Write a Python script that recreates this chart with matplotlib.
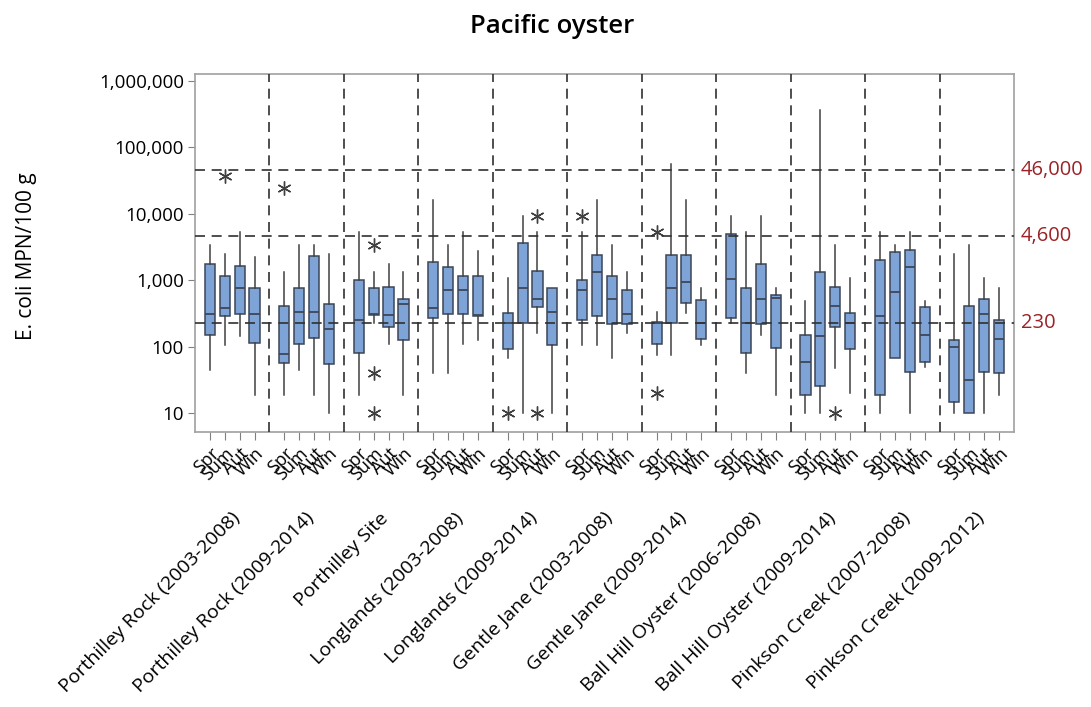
import matplotlib
matplotlib.use('Agg')
import matplotlib.pyplot as plt
import matplotlib.ticker as mticker
from matplotlib.transforms import blended_transform_factory

plt.rcParams['font.family'] = ['Open Sans', 'DejaVu Sans']

# ---------------- data ----------------
groups = ["Porthilley Rock (2003-2008)", "Porthilley Rock (2009-2014)", "Porthilley Site",
          "Longlands (2003-2008)", "Longlands (2009-2014)", "Gentle Jane (2003-2008)",
          "Gentle Jane (2009-2014)", "Ball Hill Oyster (2006-2008)", "Ball Hill Oyster (2009-2014)",
          "Pinkson Creek (2007-2008)", "Pinkson Creek (2009-2012)"]
seasons = ["Spr", "Sum", "Aut", "Win"]

# per box (group-major, season-minor)
whis_hi = [3360, 2460, 5200, 2190,
           1335, 3360, 3360, 2460,
           5200, 1335, 1740, 1335,
           15960, 3360, 5200, 2730,
           1060, 9170, 5200, 750,
           5200, 15960, 3360, 1335,
           326, 54900, 15960, 750,
           9170, 5200, 9170, 750,
           489, 360000, 3360, 1060,
           5200, 3360, 5200, 483,
           2460, 3360, 1060, 750]
q3 = [1740, 1160, 1625, 750,
      406, 750, 2296, 430,
      1000, 750, 794, 512,
      1845, 1550, 1160, 1160,
      323, 3560, 1380, 750,
      1000, 2377, 1160, 707,
      235, 2377, 2377, 500,
      4920, 750, 1730, 595,
      149, 1304, 794, 323,
      2000, 2610, 2825, 397,
      125, 406, 512, 250]
med = [308, 384, 750, 308,
       77, 326, 334, 187,
       250, 308, 295, 430,
       384, 707, 707, 298,
       230, 750, 512, 326,
       707, 1304, 512, 308,
       225, 750, 944, 230,
       1035, 230, 512, 530,
       59, 144, 406, 230,
       291, 668, 1550, 149,
       97, 31, 308, 128]
q1 = [149, 288, 305, 113,
      57, 111, 136, 55,
      81, 298, 199, 125,
      265, 305, 305, 288,
      91, 230, 397, 105,
      250, 288, 215, 216,
      108, 230, 446, 128,
      265, 81, 216, 96,
      19, 26, 199, 91,
      19, 68, 42, 58,
      14.5, 10, 41, 39.5]
whis_lo = [45, 105, 144, 19,
           19, 45, 19, 10,
           19, 223, 111, 19,
           39.5, 39.5, 111, 125,
           68, 10, 161, 10,
           105, 105, 68, 158,
           76, 76, 315, 105,
           223, 39.5, 152, 19,
           10, 10, 48, 20,
           10, 68, 10, 50,
           10, 10, 10, 19]

outlier_box = [1, 4, 9, 9, 9, 16, 18, 18, 20, 24, 24, 34]
outlier_val = [36600, 24400, 3400, 40, 10, 10, 9200, 10, 9200, 5200, 20, 10]

ref_levels = [46000, 4600, 230]
ref_labels = ["46,000", "4,600", "230"]
yticks = [10, 100, 1000, 10000, 100000, 1000000]

# ---------------- figure ----------------
fig = plt.figure(figsize=(10.91, 7.07), dpi=100)
ax = fig.add_axes([0.1787, 0.389, 0.7507, 0.5064])

GW = 5  # group width in x units
positions = [g * GW + s + 1 for g in range(len(groups)) for s in range(len(seasons))]

stats = []
for i in range(len(positions)):
    fl = [v for b, v in zip(outlier_box, outlier_val) if b == i]
    stats.append(dict(whislo=whis_lo[i], q1=q1[i], med=med[i], q3=q3[i],
                      whishi=whis_hi[i], fliers=fl))

edge = '#3c4658'
ax.bxp(stats, positions=positions, widths=0.68, patch_artist=True, showcaps=False,
       boxprops=dict(facecolor='#7ea4d7', edgecolor=edge, linewidth=1.1),
       medianprops=dict(color=edge, linewidth=1.3),
       whiskerprops=dict(color='#404040', linewidth=1.1),
       flierprops=dict(marker=(6, 2, 0), markersize=10, markeredgecolor='#404040',
                       markerfacecolor='none', markeredgewidth=1.0, linestyle='none'))

ax.set_yscale('log')
ax.set_ylim(5.2, 1.26e6)
ax.set_xlim(0, GW * len(groups))

# reference lines
for lv, lab in zip(ref_levels, ref_labels):
    ax.axhline(lv, color='#303030', linestyle=(0, (6, 4)), linewidth=1.2, zorder=5)
    ax.text(1.008, lv, lab, transform=blended_transform_factory(ax.transAxes, ax.transData),
            color='#9b2226', fontsize=14.5, va='center', ha='left')

# group separators
for g in range(1, len(groups)):
    ax.axvline(g * GW, color='#303030', linestyle=(0, (6, 4)), linewidth=1.2, zorder=5)

# y axis
ax.yaxis.set_major_locator(mticker.FixedLocator(yticks))
ax.yaxis.set_minor_locator(mticker.NullLocator())
ax.yaxis.set_major_formatter(mticker.FuncFormatter(lambda v, p: f"{int(round(v)):,}"))
ax.tick_params(axis='y', labelsize=13.5, length=5, color='#808080', pad=3)

# x axis: season ticks
ax.set_xticks(positions)
ax.set_xticklabels(seasons * len(groups), rotation=45, ha='right',
                   rotation_mode='anchor', fontsize=13)
ax.tick_params(axis='x', length=6, color='#808080', pad=3)

for sp in ax.spines.values():
    sp.set_color('#a0a0a0')
    sp.set_linewidth(1.2)

# group labels
trans = blended_transform_factory(ax.transData, ax.transAxes)
for g, name in enumerate(groups):
    ax.text(g * GW + 2.4, -0.215, name, transform=trans, rotation=45,
            ha='right', va='top', rotation_mode='anchor', fontsize=14)

ax.set_ylabel("E. coli MPN/100 g", fontsize=15, labelpad=14)
ax.yaxis.set_label_coords(-0.193, 0.49)
fig.text(0.506, 0.963, "Pacific oyster", ha='center', va='center',
         fontsize=18.5, fontweight='semibold')

fig.savefig('out.png', dpi=100, facecolor='white')
